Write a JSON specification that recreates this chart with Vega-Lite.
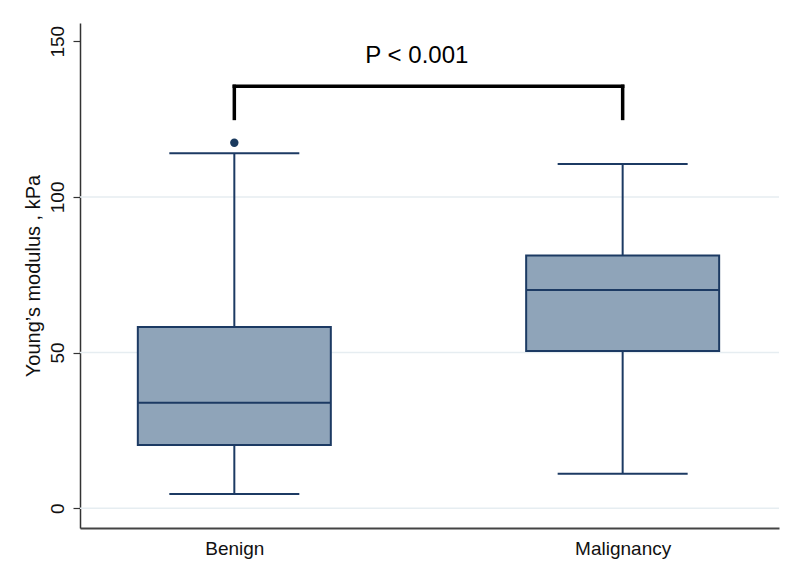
{
  "$schema": "https://vega.github.io/schema/vega-lite/v6.json",
  "autosize": {"type": "none"},
  "padding": {"left": 80, "top": 23, "right": 21, "bottom": 54},
  "width": 699,
  "height": 505,
  "background": "white",
  "config": {
    "view": {"stroke": null},
    "font": "Liberation Sans"
  },
  "datasets": {
    "boxes": [
      {"group": "Benign", "pos": 1, "lower": 4.6, "q1": 20.3, "median": 33.9, "q3": 58.2, "upper": 114.0},
      {"group": "Malignancy", "pos": 2, "lower": 11.1, "q1": 50.5, "median": 70.1, "q3": 81.2, "upper": 110.6}
    ],
    "outliers": [
      {"group": "Benign", "pos": 1, "value": 117.4}
    ],
    "grid": [{"v": 0}, {"v": 50}, {"v": 100}],
    "bracket": [
      {"pos": 1, "bottom": 125.2, "top": 135.5},
      {"pos": 2, "bottom": 125.2, "top": 135.5}
    ],
    "bar": [{"from": 1, "to": 2, "level": 135.5}],
    "label": [{"pos": 1.47, "y": 142.9, "text": "P < 0.001"}]
  },
  "layer": [
    {
      "data": {"name": "grid"},
      "mark": {"type": "rule", "color": "#e6edf1", "strokeWidth": 1.5},
      "encoding": {
        "y": {"field": "v", "type": "quantitative", "scale": {"domain": [-6.35, 155.85], "nice": false, "zero": false, "padding": 0},
          "axis": {"values": [0, 50, 100, 150], "title": "Young’s modulus , kPa", "grid": false,
            "labelAngle": -90, "labelAlign": "center", "labelBaseline": "alphabetic", "labelFontSize": 19,
            "labelColor": "#111111", "labelPadding": 10, "tickSize": 7, "tickColor": "#333333", "tickWidth": 1.2,
            "domainColor": "#333333", "domainWidth": 1.5, "titleFontSize": 20, "titleFontWeight": "normal",
            "titleColor": "#111111", "titlePadding": 5}}
      }
    },
    {
      "data": {"name": "boxes"},
      "mark": {"type": "rule", "color": "#1c3a63", "strokeWidth": 2},
      "encoding": {
        "x": {"field": "pos", "type": "quantitative", "scale": {"domain": [0.6026, 2.4026], "nice": false, "zero": false, "padding": 0},
          "axis": {"values": [1, 2], "labelExpr": "datum.value == 1 ? 'Benign' : 'Malignancy'", "title": null,
            "ticks": false, "grid": false, "labelFontSize": 19, "labelColor": "#111111", "labelPadding": 11,
            "domainColor": "#444444", "domainWidth": 2}},
        "y": {"field": "q3", "type": "quantitative"},
        "y2": {"field": "upper"}
      }
    },
    {
      "data": {"name": "boxes"},
      "mark": {"type": "rule", "color": "#1c3a63", "strokeWidth": 2},
      "encoding": {
        "x": {"field": "pos", "type": "quantitative"},
        "y": {"field": "lower", "type": "quantitative"},
        "y2": {"field": "q1"}
      }
    },
    {
      "data": {"name": "boxes"},
      "mark": {"type": "tick", "orient": "horizontal", "size": 130, "thickness": 2, "color": "#1c3a63", "opacity": 1},
      "encoding": {
        "x": {"field": "pos", "type": "quantitative"},
        "y": {"field": "upper", "type": "quantitative"}
      }
    },
    {
      "data": {"name": "boxes"},
      "mark": {"type": "tick", "orient": "horizontal", "size": 130, "thickness": 2, "color": "#1c3a63", "opacity": 1},
      "encoding": {
        "x": {"field": "pos", "type": "quantitative"},
        "y": {"field": "lower", "type": "quantitative"}
      }
    },
    {
      "data": {"name": "boxes"},
      "mark": {"type": "bar", "size": 193, "fill": "#8fa4b9", "stroke": "#1c3a63", "strokeWidth": 2, "opacity": 1},
      "encoding": {
        "x": {"field": "pos", "type": "quantitative"},
        "y": {"field": "q1", "type": "quantitative"},
        "y2": {"field": "q3"}
      }
    },
    {
      "data": {"name": "boxes"},
      "mark": {"type": "tick", "orient": "horizontal", "size": 193, "thickness": 2, "color": "#1c3a63", "opacity": 1},
      "encoding": {
        "x": {"field": "pos", "type": "quantitative"},
        "y": {"field": "median", "type": "quantitative"}
      }
    },
    {
      "data": {"name": "outliers"},
      "mark": {"type": "point", "filled": true, "size": 70, "color": "#1a3a5e", "opacity": 1},
      "encoding": {
        "x": {"field": "pos", "type": "quantitative"},
        "y": {"field": "value", "type": "quantitative"}
      }
    },
    {
      "data": {"name": "bracket"},
      "mark": {"type": "rule", "color": "#000000", "strokeWidth": 3.5, "strokeCap": "square"},
      "encoding": {
        "x": {"field": "pos", "type": "quantitative"},
        "y": {"field": "bottom", "type": "quantitative"},
        "y2": {"field": "top"}
      }
    },
    {
      "data": {"name": "bar"},
      "mark": {"type": "rule", "color": "#000000", "strokeWidth": 3.5, "strokeCap": "square"},
      "encoding": {
        "x": {"field": "from", "type": "quantitative"},
        "x2": {"field": "to"},
        "y": {"field": "level", "type": "quantitative"}
      }
    },
    {
      "data": {"name": "label"},
      "mark": {"type": "text", "fontSize": 24, "font": "Liberation Sans", "color": "#000000", "align": "center", "baseline": "alphabetic"},
      "encoding": {
        "x": {"field": "pos", "type": "quantitative"},
        "y": {"field": "y", "type": "quantitative"},
        "text": {"field": "text"}
      }
    }
  ]
}
